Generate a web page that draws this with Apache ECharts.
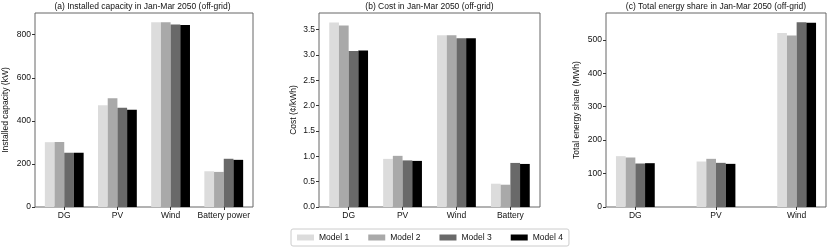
<!DOCTYPE html>
<html><head><meta charset="utf-8">
<script src="https://cdn.jsdelivr.net/npm/echarts@6/dist/echarts.min.js"></script>
<style>html,body{margin:0;padding:0;background:#fff}#c{width:831px;height:250px}</style>
</head><body><div id="c"></div>
<script>
// ---- data ----
const modelNames = ['Model 1', 'Model 2', 'Model 3', 'Model 4'];
const modelColors = ['#dcdcdc', '#a9a9a9', '#696969', '#000000'];

const catsA = ['DG', 'PV', 'Wind', 'Battery power'];
const capM1 = [301, 472, 858, 166];
const capM2 = [302, 505, 858, 163];
const capM3 = [252, 461, 848, 224];
const capM4 = [252, 452, 845, 219];
const ticksA = [0, 200, 400, 600, 800];

const catsB = ['DG', 'PV', 'Wind', 'Battery'];
const costM1 = [3.64, 0.95, 3.39, 0.46];
const costM2 = [3.585, 1.01, 3.39, 0.44];
const costM3 = [3.08, 0.92, 3.33, 0.87];
const costM4 = [3.09, 0.91, 3.33, 0.85];
const ticksB = [0, 0.5, 1.0, 1.5, 2.0, 2.5, 3.0, 3.5];

const catsC = ['DG', 'PV', 'Wind'];
const engM1 = [152, 136, 520];
const engM2 = [148, 144, 513];
const engM3 = [130, 132, 552];
const engM4 = [131, 129, 551];
const ticksC = [0, 100, 200, 300, 400, 500];

const titles = ['(a) Installed capacity in Jan-Mar 2050 (off-grid)',
                '(b) Cost in Jan-Mar 2050 (off-grid)',
                '(c) Total energy share in Jan-Mar 2050 (off-grid)'];
const yNames = ['Installed capacity (kW)', 'Cost (¢/kWh)', 'Total energy share (MWh)'];

// ---- chart ----
const FONT = '"Liberation Sans", Arial, sans-serif';
const FS = 8.5;
const panels = [
  {cats: catsA, series: [capM1, capM2, capM3, capM4], ticks: ticksA, ymax: 901, xmin: -0.55, xmax: 3.55, fmt: v => String(v),
   grid: {left: 32, top: 13, width: 221, height: 194}},
  {cats: catsB, series: [costM1, costM2, costM3, costM4], ticks: ticksB, ymax: 3.83, xmin: -0.55, xmax: 3.55, fmt: v => v.toFixed(1),
   grid: {left: 319, top: 13, width: 221, height: 194}},
  {cats: catsC, series: [engM1, engM2, engM3, engM4], ticks: ticksC, ymax: 580, xmin: -0.364, xmax: 2.364, fmt: v => String(v),
   grid: {left: 606, top: 13, width: 220, height: 194}}
];

const grid = [], xAxis = [], yAxis = [], series = [], graphic = [];
panels.forEach((p, i) => {
  grid.push(Object.assign({show: true, borderColor: '#666', borderWidth: 1, backgroundColor: 'transparent', containLabel: false}, p.grid));
  const idx = p.cats.map((_, k) => k);
  xAxis.push({
    type: 'value', gridIndex: i, min: p.xmin, max: p.xmax, position: 'bottom',
    splitLine: {show: false}, axisLine: {show: false, onZero: false},
    axisTick: {show: true, length: 3, customValues: idx, lineStyle: {color: '#333'}},
    axisLabel: {customValues: idx, formatter: v => p.cats[Math.round(v)], color: '#111', fontSize: FS, fontFamily: FONT, margin: 4}
  });
  yAxis.push({
    type: 'value', gridIndex: i, min: 0, max: p.ymax, position: 'left',
    splitLine: {show: false}, axisLine: {show: false, onZero: false},
    axisTick: {show: true, length: 3, customValues: p.ticks, lineStyle: {color: '#333'}},
    axisLabel: {customValues: p.ticks, formatter: v => p.fmt(v), color: '#111', fontSize: FS, fontFamily: FONT, margin: 4},
    name: yNames[i], nameLocation: 'middle', nameGap: i === 1 ? 21 : 25,
    nameTextStyle: {color: '#111', fontSize: FS, fontFamily: FONT}
  });
  p.series.forEach((vals, m) => {
    series.push({
      type: 'bar', name: modelNames[m], xAxisIndex: i, yAxisIndex: i,
      data: vals.map((v, k) => [k, v]),
      barWidth: 9.7, barGap: '0%',
      itemStyle: {color: modelColors[m]},
      emphasis: {disabled: true}, animation: false
    });
  });
  graphic.push({
    type: 'text', x: p.grid.left + p.grid.width / 2, y: 7,
    style: {text: titles[i], fill: '#111', font: FS + 'px ' + FONT, textAlign: 'center', textVerticalAlign: 'middle'}
  });
});

const chart = echarts.init(document.getElementById('c'), null, {renderer: 'canvas'});
chart.setOption({
  animation: false,
  grid, xAxis, yAxis, series, graphic,
  legend: {
    data: modelNames, left: 291, top: 229, orient: 'horizontal',
    icon: 'rect', itemWidth: 17, itemHeight: 6, itemGap: 19,
    padding: [4, 6, 4, 6], borderColor: '#ccc', borderWidth: 1, borderRadius: 2,
    textStyle: {color: '#111', fontSize: FS, fontFamily: FONT}
  }
});
</script>
</body></html>
